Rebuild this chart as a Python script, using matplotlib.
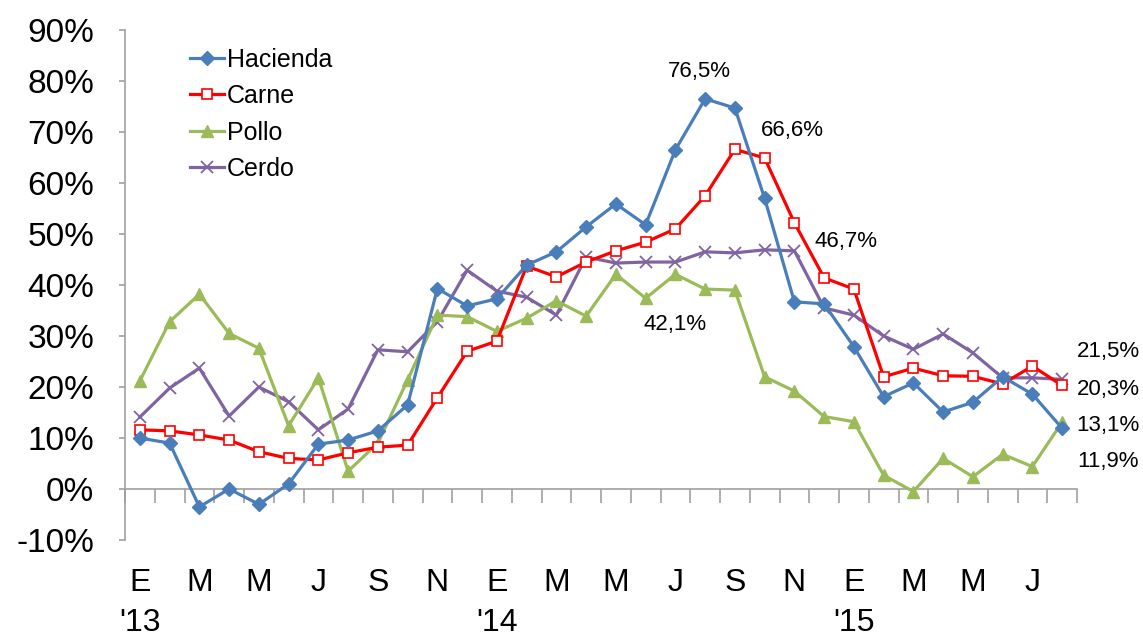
import matplotlib
matplotlib.use("Agg")
import matplotlib.pyplot as plt
import matplotlib.transforms as mtransforms
import numpy as np

plt.rcParams['font.family'] = ['Liberation Sans', 'DejaVu Sans']

months = ["E", "F", "M", "A", "M", "J", "J", "A", "S", "O", "N", "D"] * 2 + ["E", "F", "M", "A", "M", "J", "J", "A"]
year_labels = {0: "'13", 12: "'14", 24: "'15"}

hacienda = [10.0, 9.0, -3.5, 0.0, -3.0, 1.0, 8.8, 9.6, 11.4, 16.5, 39.3, 35.9,
            37.3, 43.9, 46.5, 51.4, 55.9, 51.8, 66.5, 76.5, 74.7, 57.0, 36.7, 36.3,
            27.9, 18.1, 20.8, 15.1, 17.0, 22.0, 18.6, 11.9]
carne = [11.6, 11.4, 10.6, 9.6, 7.3, 6.0, 5.7, 7.1, 8.2, 8.6, 17.9, 27.0,
         29.0, 43.7, 41.6, 44.5, 46.7, 48.4, 51.0, 57.5, 66.6, 64.9, 52.2, 41.4,
         39.2, 22.0, 23.7, 22.2, 22.1, 20.6, 24.1, 20.3]
pollo = [21.2, 32.8, 38.2, 30.5, 27.6, 12.4, 21.8, 3.5, 9.0, 21.4, 34.1, 33.8,
         30.9, 33.5, 36.9, 33.9, 42.1, 37.4, 42.1, 39.2, 39.0, 22.0, 19.2, 14.2,
         13.2, 2.7, -0.5, 6.0, 2.4, 6.8, 4.4, 13.1]
cerdo = [14.1, 19.8, 23.7, 14.3, 20.0, 17.1, 11.6, 15.7, 27.3, 26.9, 32.8, 42.9,
         38.8, 37.6, 34.1, 45.5, 44.3, 44.5, 44.5, 46.5, 46.3, 46.9, 46.7, 35.5,
         34.1, 30.0, 27.4, 30.4, 26.7, 21.8, 21.8, 21.5]

annotations = [
    ("Hacienda", 19, "76,5%"),
    ("Carne", 20, "66,6%"),
    ("Cerdo", 22, "46,7%"),
    ("Pollo", 18, "42,1%"),
]
end_labels = ["21,5%", "20,3%", "13,1%", "11,9%"]

fig = plt.figure(figsize=(11.43, 6.37), dpi=100)
ax = fig.add_axes([125/1143, 1-540/637, 952/1143, 510/637])

x = np.arange(len(months))
blue = "#4A7EBB"
red = "#FF0000"
green = "#9BBB59"
purple = "#8064A2"

ax.plot(x, hacienda, color=blue, lw=2.3, marker="D", ms=7, mfc=blue, mec=blue, label="Hacienda", zorder=5)
ax.plot(x, carne, color=red, lw=2.3, marker="s", ms=7.5, mfc="white", mec=red, mew=1.2, label="Carne", zorder=4)
ax.plot(x, pollo, color=green, lw=2.3, marker="^", ms=9, mfc=green, mec=green, label="Pollo", zorder=3)
ax.plot(x, cerdo, color=purple, lw=2.3, marker="x", ms=8, mec=purple, mew=1.3, label="Cerdo", zorder=2)

ax.set_xlim(-0.5, len(months) - 0.5)
ax.set_ylim(-10, 90)
ax.set_yticks(np.arange(-10, 91, 10))
ax.set_yticklabels([f"{v}%" for v in range(-10, 91, 10)], fontsize=24)

for s in ["top", "right"]:
    ax.spines[s].set_visible(False)
ax.spines["left"].set_color("#A0A0A0")
ax.spines["left"].set_linewidth(1.2)
ax.spines["bottom"].set_position(("data", 0))
ax.spines["bottom"].set_color("#A0A0A0")
ax.spines["bottom"].set_linewidth(1.2)
ax.tick_params(axis="y", direction="out", length=4, color="#A0A0A0", width=1.2, pad=18)
ax.set_xticks(np.arange(-0.5, len(months), 1.0))
ax.set_xticklabels([])
ax.tick_params(axis="x", direction="out", length=10, color="#A0A0A0", width=1.2)

trans = mtransforms.blended_transform_factory(ax.transData, ax.transAxes)
for i in range(0, len(months), 2):
    ax.text(i, -0.084, months[i], transform=trans, ha="center", va="center", fontsize=23)
for i, lab in year_labels.items():
    ax.text(i, -0.163, lab, transform=trans, ha="center", va="center", fontsize=23)

series = {"Hacienda": hacienda, "Carne": carne, "Pollo": pollo, "Cerdo": cerdo}
offsets = {"Hacienda": (-6, 27), "Carne": (57, 19), "Cerdo": (52, 9), "Pollo": (0, -50)}
for name, idx, txt in annotations:
    dx, dy = offsets[name]
    ax.annotate(txt, (idx, series[name][idx]), xytext=(dx * 0.72, dy * 0.72),
                textcoords="offset points", ha="center", va="center", fontsize=16)

end_y = [352, 390, 425, 461]
for txt, py in zip(end_labels, end_y):
    fig.text(1108/1143, 1 - py/637, txt, ha="center", va="center", fontsize=16)

leg = ax.legend(loc="upper left", bbox_to_anchor=(0.058, 0.985), frameon=False, fontsize=18,
                handlelength=1.35, handletextpad=0.12, labelspacing=0.5, borderaxespad=0)

fig.savefig("out.png", dpi=100)
